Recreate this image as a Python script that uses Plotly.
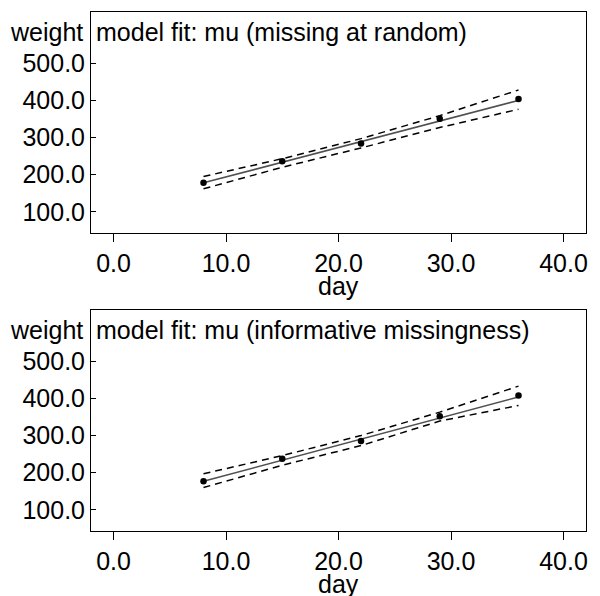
import plotly.graph_objects as go

days = [8, 15, 22, 29, 36]

# panel 1: missing at random
obs_mar = [178, 236, 284, 350.5, 404]
fit_mar = [178, 233.5, 289, 344.5, 400]
upper_mar = [195, 243, 297, 359, 428]
lower_mar = [162, 220, 272, 327, 376]

# panel 2: informative missingness
obs_inf = [177, 237.5, 285, 352, 408]
fit_inf = [177, 234, 290, 347, 404]
upper_inf = [197, 246, 300, 363, 433]
lower_inf = [160, 220, 273, 339, 381]

titles = ["model fit: mu (missing at random)", "model fit: mu (informative missingness)"]
x_ticks = [0, 10, 20, 30, 40]
y_ticks = [100, 200, 300, 400, 500]

FONT = "Liberation Sans, Arial, Helvetica, sans-serif"
FS = 25

fig = go.Figure()
panels = [
    ("x", "y", obs_mar, fit_mar, upper_mar, lower_mar),
    ("x2", "y2", obs_inf, fit_inf, upper_inf, lower_inf),
]
for xa, ya, obs, fit, up, lo in panels:
    for band in (up, lo):
        fig.add_trace(go.Scatter(x=days, y=band, xaxis=xa, yaxis=ya, mode="lines",
                                 line=dict(color="black", width=1.5, dash="7px,5px"),
                                 showlegend=False, hoverinfo="skip"))
    fig.add_trace(go.Scatter(x=days, y=fit, xaxis=xa, yaxis=ya, mode="lines",
                             line=dict(color="#505050", width=1.5),
                             showlegend=False))
    fig.add_trace(go.Scatter(x=days, y=obs, xaxis=xa, yaxis=ya, mode="markers",
                             marker=dict(color="black", size=6.5),
                             showlegend=False))

xcommon = dict(range=[-2, 42], tickvals=x_ticks, tickformat=".1f", ticks="outside",
               ticklen=8, tickcolor="black", showline=True, linecolor="black",
               linewidth=1, mirror=True, showgrid=False, zeroline=False,
               tickfont=dict(family=FONT, size=FS, color="black"),
               ticklabelstandoff=0)
ycommon = dict(range=[43, 638], tickvals=y_ticks, tickformat=".1f", ticks="inside",
               ticklen=5, tickcolor="black", showline=True, linecolor="black",
               linewidth=1, mirror=True, showgrid=False, zeroline=False,
               tickfont=dict(family=FONT, size=FS, color="black"))

fig.update_layout(
    width=600, height=596,
    margin=dict(l=91, r=14, t=12, b=65),
    paper_bgcolor="white", plot_bgcolor="white",
    xaxis=dict(**xcommon, anchor="y", domain=[0, 1]),
    yaxis=dict(**ycommon, anchor="x", domain=[0.5742, 1]),
    xaxis2=dict(**xcommon, anchor="y2", domain=[0, 1]),
    yaxis2=dict(**ycommon, anchor="x2", domain=[0, 0.4258]),
    font=dict(family=FONT, size=FS, color="black"),
)

for i, (xa, ya) in enumerate([("x", "y"), ("x2", "y2")]):
    xd = xa + " domain"
    yd = ya + " domain"
    fig.add_annotation(text="weight", xref=xd, yref=yd, x=0, y=1, xanchor="right",
                       yanchor="middle", xshift=-6, yshift=-20, showarrow=False,
                       font=dict(family=FONT, size=FS, color="black"))
    fig.add_annotation(text=titles[i], xref=xd, yref=yd, x=0, y=1, xanchor="left",
                       yanchor="middle", xshift=3, yshift=-20, showarrow=False,
                       font=dict(family=FONT, size=FS, color="black"))
    fig.add_annotation(text="day", xref=xd, yref=yd, x=0.5, y=0, xanchor="center",
                       yanchor="middle", yshift=-53, showarrow=False,
                       font=dict(family=FONT, size=FS, color="black"))

fig.write_html("out.html")
